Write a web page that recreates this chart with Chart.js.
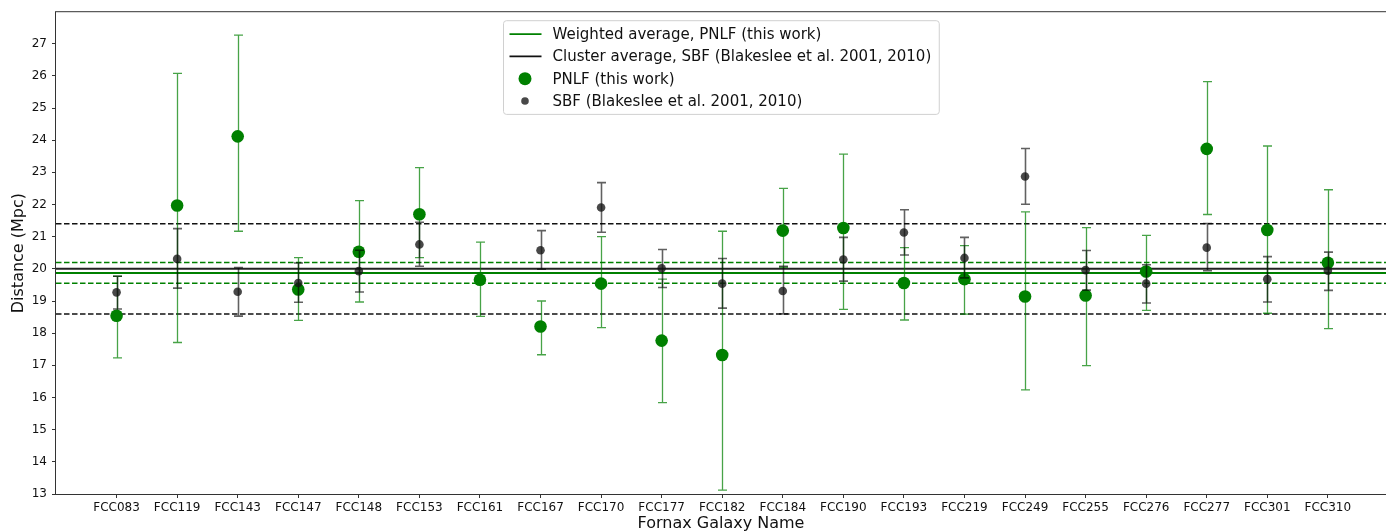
<!DOCTYPE html>
<html>
<head>
<meta charset="utf-8">
<title>Fornax distances</title>
<script src="https://cdn.jsdelivr.net/npm/chart.js@4/dist/chart.umd.min.js"></script>
<style>
  html, body { margin: 0; background: #fff; }
  #wrap { width: 1386px; height: 531px; position: relative; }
</style>
</head>
<body>
<div id="wrap"><canvas id="chart"></canvas></div>
<script>
const galaxies = [
  "FCC083", "FCC119", "FCC143", "FCC147", "FCC148", "FCC153", "FCC161",
  "FCC167", "FCC170", "FCC177", "FCC182", "FCC184", "FCC190", "FCC193",
  "FCC219", "FCC249", "FCC255", "FCC276", "FCC277", "FCC301", "FCC310",
];

// PNLF distances (Mpc) with upper / lower error bar ends
const pnlf = [18.54, 21.97, 24.12, 19.36, 20.53, 21.70, 19.66, 18.21, 19.54, 17.77, 17.32,
  21.19, 21.27, 19.56, 19.68, 19.14, 19.17, 19.92, 23.73, 21.21, 20.19];
const pnlfHigh = [19.77, 26.08, 27.27, 20.35, 22.12, 23.15, 20.83, 19.00, 21.00, 19.68, 21.17,
  22.50, 23.57, 20.66, 20.72, 21.77, 21.28, 21.04, 25.82, 23.82, 22.46];
const pnlfLow = [17.23, 17.71, 21.17, 18.40, 18.97, 20.35, 18.52, 17.33, 18.17, 15.84, 13.12,
  20.05, 18.74, 18.41, 18.59, 16.24, 16.99, 18.71, 21.69, 18.62, 18.14];

// SBF distances (FCC161 has none)
const sbf = [19.27, 20.31, 19.29, 19.56, 19.93, 20.76, null, 20.58, 21.91, 20.02, 19.54,
  19.31, 20.29, 21.13, 20.34, 22.87, 19.96, 19.54, 20.66, 19.68, 19.94];
const sbfHigh = [19.77, 21.25, 20.04, 20.18, 20.58, 21.45, null, 21.19, 22.68, 20.60, 20.32,
  20.08, 20.98, 21.84, 20.98, 23.74, 20.57, 20.13, 21.41, 20.38, 20.52];
const sbfLow = [18.75, 19.40, 18.53, 18.96, 19.28, 20.08, null, 19.99, 21.14, 19.42, 18.78,
  18.60, 19.62, 20.43, 19.72, 22.01, 19.34, 18.94, 19.94, 18.97, 19.33];

// averages and their uncertainty bands
const pnlfMean = 19.87;
const pnlfBand = [19.55, 20.20];
const sbfMean = 20.0;
const sbfBand = [18.6, 21.4];

const yTicks = [13, 14, 15, 16, 17, 18, 19, 20, 21, 22, 23, 24, 25, 26, 27];

const FONT = "'DejaVu Sans', sans-serif";
const GREEN = "#008000";

const hline = (value, color, width, dash) => ({
  type: "line",
  data: [{ x: -1, y: value }, { x: 21, y: value }],
  borderColor: color,
  borderWidth: width,
  borderDash: dash || [],
  pointRadius: 0,
  order: 20,
  noLegend: true,
});

const toPoints = (values) =>
  values.map((v, i) => (v == null ? null : { x: i, y: v })).filter((p) => p);

// vertical error bars, drawn just before their dataset
const errorBars = {
  id: "errorBars",
  beforeDatasetDraw(chart, args) {
    const bars = chart.data.datasets[args.index].errorBars;
    if (!bars) return;
    const { ctx } = chart;
    const x = chart.scales.x;
    const y = chart.scales.y;
    const area = chart.chartArea;
    ctx.save();
    ctx.beginPath();
    ctx.rect(area.left, area.top, area.right - area.left, area.bottom - area.top);
    ctx.clip();
    ctx.strokeStyle = bars.color;
    ctx.lineWidth = bars.width;
    bars.low.forEach((lo, i) => {
      if (lo == null) return;
      const px = Math.round(x.getPixelForValue(i)) + 0.5;
      const top = y.getPixelForValue(bars.high[i]);
      const bottom = y.getPixelForValue(lo);
      ctx.beginPath();
      ctx.moveTo(px, top);
      ctx.lineTo(px, bottom);
      ctx.moveTo(px - bars.cap, top);
      ctx.lineTo(px + bars.cap, top);
      ctx.moveTo(px - bars.cap, bottom);
      ctx.lineTo(px + bars.cap, bottom);
      ctx.stroke();
    });
    ctx.restore();
  },
};

// framed box around the plot + matplotlib style legend
const frameAndLegend = {
  id: "frameAndLegend",
  afterDraw(chart) {
    const { ctx, chartArea: a } = chart;
    ctx.save();
    ctx.strokeStyle = "#333";
    ctx.lineWidth = 1;
    ctx.strokeRect(a.left - 0.5, a.top - 0.5, a.right - a.left + 1, a.bottom - a.top + 1);

    const entries = chart.data.datasets.filter((d) => !d.noLegend);
    ctx.font = "15px " + FONT;
    const textW = Math.max(...entries.map((d) => ctx.measureText(d.label).width));
    const rowH = 22.3;
    const w = 49 + textW + 8;
    const h = rowH * (entries.length - 1) + 26.8;
    const left = Math.round((a.left + a.right) / 2 - w / 2) + 0.5;
    const top = a.top + 8.5;

    ctx.fillStyle = "rgba(255,255,255,0.85)";
    ctx.strokeStyle = "#d0d0d0";
    ctx.beginPath();
    ctx.roundRect(left, top, w, h, 3);
    ctx.fill();
    ctx.stroke();

    entries.forEach((d, i) => {
      const cy = top + 13.4 + i * rowH;
      if (d.legendLine) {
        ctx.strokeStyle = d.borderColor;
        ctx.lineWidth = 1.6;
        ctx.beginPath();
        ctx.moveTo(left + 6, cy);
        ctx.lineTo(left + 38, cy);
        ctx.stroke();
      } else {
        ctx.fillStyle = d.backgroundColor;
        ctx.beginPath();
        ctx.arc(left + 21.5, cy, d.legendRadius, 0, Math.PI * 2);
        ctx.fill();
      }
      ctx.fillStyle = "#111";
      ctx.textBaseline = "middle";
      ctx.textAlign = "left";
      ctx.fillText(d.label, left + 49, cy + 1);
    });
    ctx.restore();
  },
};

new Chart(document.getElementById("chart"), {
  type: "scatter",
  data: {
    datasets: [
      // legend-only line entries
      { type: "line", label: "Weighted average, PNLF (this work)", data: [], borderColor: GREEN, legendLine: true },
      { type: "line", label: "Cluster average, SBF (Blakeslee et al. 2001, 2010)", data: [], borderColor: "#111", legendLine: true },
      {
        label: "PNLF (this work)",
        data: toPoints(pnlf),
        backgroundColor: GREEN,
        borderWidth: 0,
        pointRadius: 6.3,
        pointHoverRadius: 6.3,
        legendRadius: 6.5,
        order: 5,
        errorBars: { low: pnlfLow, high: pnlfHigh, color: "rgba(0,128,0,0.72)", width: 1.3, cap: 4.5 },
      },
      {
        label: "SBF (Blakeslee et al. 2001, 2010)",
        data: toPoints(sbf),
        backgroundColor: "rgba(20,20,20,0.78)",
        borderWidth: 0,
        pointRadius: 4.3,
        pointHoverRadius: 4.3,
        legendRadius: 3.8,
        order: 1,
        errorBars: { low: sbfLow, high: sbfHigh, color: "rgba(0,0,0,0.62)", width: 1.6, cap: 4.5 },
      },
      hline(sbfBand[1], "#111", 1.5, [5.5, 2.5]),
      hline(sbfBand[0], "#111", 1.5, [5.5, 2.5]),
      hline(pnlfBand[1], GREEN, 1.5, [5.5, 2.5]),
      hline(pnlfBand[0], GREEN, 1.5, [5.5, 2.5]),
      hline(sbfMean, "#222", 2),
      hline(pnlfMean, GREEN, 2),
    ],
  },
  options: {
    responsive: true,
    maintainAspectRatio: false,
    animation: false,
    layout: { autoPadding: false, padding: { top: 9, right: 0, bottom: 0, left: 0 } },
    plugins: {
      legend: { display: false },
      tooltip: { enabled: false },
    },
    scales: {
      x: {
        type: "linear",
        min: -1,
        max: 20.96,
        afterBuildTicks: (scale) => {
          scale.ticks = galaxies.map((_, i) => ({ value: i }));
        },
        afterFit: (scale) => {
          scale.height = 37;
        },
        ticks: {
          callback: (value) => galaxies[value],
          font: { family: FONT, size: 12 },
          color: "#111",
          padding: 3,
          maxRotation: 0,
          autoSkip: false,
        },
        grid: { drawOnChartArea: false, drawTicks: true, tickLength: 4, color: "#333" },
        border: { display: false },
        title: {
          display: true,
          text: "Fornax Galaxy Name",
          font: { family: FONT, size: 16 },
          color: "#111",
          padding: { top: 0, bottom: -2 },
        },
      },
      y: {
        min: 13,
        max: 27.98,
        afterBuildTicks: (scale) => {
          scale.ticks = yTicks.map((v) => ({ value: v }));
        },
        afterFit: (scale) => {
          scale.width = 56;
        },
        ticks: {
          font: { family: FONT, size: 12 },
          color: "#111",
          padding: 5,
        },
        grid: { drawOnChartArea: false, drawTicks: true, tickLength: 4, color: "#333" },
        border: { display: false },
        title: {
          display: true,
          text: "Distance (Mpc)",
          font: { family: FONT, size: 16 },
          color: "#111",
          padding: { top: 9, bottom: 0 },
        },
      },
    },
  },
  plugins: [errorBars, frameAndLegend],
});
</script>
</body>
</html>
